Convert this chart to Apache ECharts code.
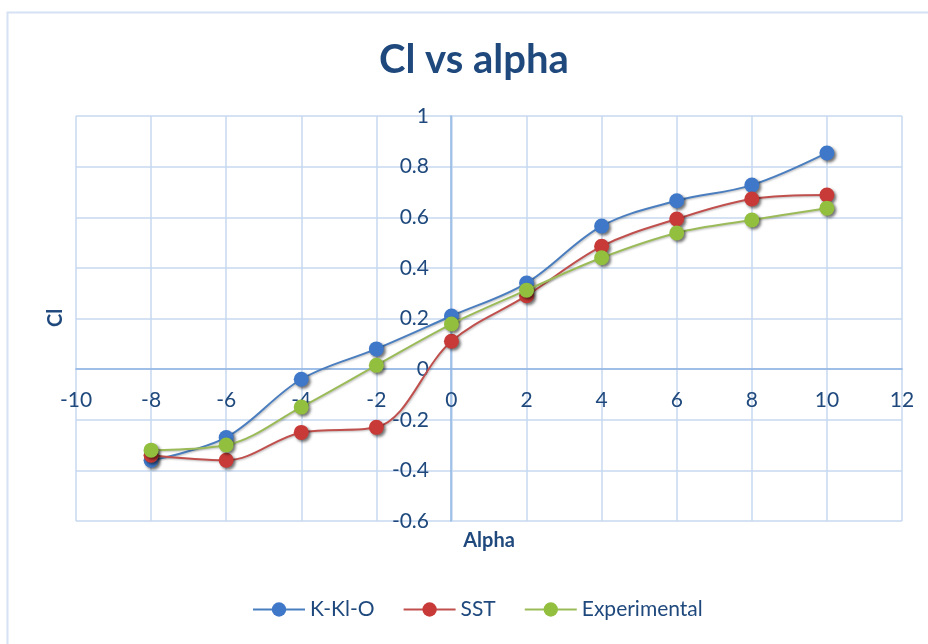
<!DOCTYPE html>
<html>
<head>
<meta charset="utf-8">
<script src="https://cdn.jsdelivr.net/npm/echarts@6/dist/echarts.min.js"></script>
<style>html,body{margin:0;padding:0;background:#fff;}#c{width:928px;height:644px;}</style>
</head>
<body>
<div id="c"></div>
<script>
const alpha = [-8, -6, -4, -2, 0, 2, 4, 6, 8, 10];
const kklo = [-0.36, -0.27, -0.04, 0.08, 0.21, 0.34, 0.565, 0.665, 0.727, 0.854];
const sst = [-0.34, -0.36, -0.25, -0.23, 0.11, 0.29, 0.485, 0.593, 0.672, 0.688];
const experimental = [-0.32, -0.30, -0.15, 0.015, 0.178, 0.312, 0.44, 0.538, 0.589, 0.636];
const seriesNames = ['K-Kl-O', 'SST', 'Experimental'];
const titleText = 'Cl vs alpha';
const xName = 'Alpha';
const yName = 'Cl';

const colors = ['#4a7ebf', '#c0504d', '#9bbb59'];
const markerColors = ['#3f78c8', '#c83a37', '#93bf3f'];
const txt = '#1f497d';
const font = 'Lato';

function pts(vals) { return alpha.map((a, i) => [a, vals[i]]); }
function mk(name, vals, idx) {
  return {
    name: name, type: 'line', smooth: 0.35, data: pts(vals),
    symbol: 'circle', symbolSize: 15,
    itemStyle: { color: markerColors[idx], shadowBlur: 3, shadowColor: 'rgba(0,0,0,0.55)', shadowOffsetX: 2, shadowOffsetY: 2 },
    lineStyle: { color: colors[idx], width: 2, shadowBlur: 2, shadowColor: 'rgba(0,0,0,0.25)', shadowOffsetX: 1, shadowOffsetY: 1 },
    emphasis: { disabled: true }, z: 3 + idx
  };
}

const chart = echarts.init(document.getElementById('c'), null, { renderer: 'canvas' });
chart.setOption({
  animation: false,
  backgroundColor: '#ffffff',
  title: {
    text: titleText, left: 374, top: 35,
    textStyle: { fontFamily: font, fontWeight: 'bold', fontSize: 40, color: txt }
  },
  graphic: [
    { type: 'rect', left: 5, top: 10, shape: { width: 940, height: 660 }, style: { fill: 'none', stroke: '#d6e2f3', lineWidth: 2 }, silent: true, z: -10 },
    { type: 'text', x: 489, y: 541, style: { text: xName, align: 'center', verticalAlign: 'middle', fontFamily: font, fontWeight: 'bold', fontSize: 20, fill: txt } },
    { type: 'text', x: 56, y: 318, rotation: Math.PI / 2, style: { text: yName, align: 'center', verticalAlign: 'middle', fontFamily: font, fontWeight: 'bold', fontSize: 20, fill: txt } }
  ],
  legend: {
    bottom: 19, left: 247,
    itemWidth: 52, itemHeight: 18, itemGap: 28,
    textStyle: { fontFamily: font, fontSize: 21, color: txt },
    data: seriesNames
  },
  grid: { left: 76, right: 26, top: 116, bottom: 123, containLabel: false },
  xAxis: {
    type: 'value', min: -10, max: 12, interval: 2,
    position: 'bottom', offset: -152,
    axisLine: { onZero: false, lineStyle: { color: '#8eb4e3', width: 1.5 } },
    axisTick: { show: false },
    axisLabel: { margin: 21, fontFamily: font, fontSize: 21, color: txt },
    splitLine: { show: true, lineStyle: { color: '#c6d9f1', width: 1.5 } }
  },
  yAxis: {
    type: 'value', min: -0.6, max: 1, interval: 0.2,
    position: 'left', offset: -375,
    axisLine: { show: true, onZero: false, lineStyle: { color: '#8eb4e3', width: 1.5 } },
    axisTick: { show: false },
    axisLabel: { margin: 22, fontFamily: font, fontSize: 21, color: txt,
      formatter: v => String(Math.round(v * 10) / 10) },
    splitLine: { show: true, lineStyle: { color: '#c6d9f1', width: 1.5 } }
  },
  series: [mk(seriesNames[0], kklo, 0), mk(seriesNames[1], sst, 1), mk(seriesNames[2], experimental, 2)]
});
</script>
</body>
</html>
